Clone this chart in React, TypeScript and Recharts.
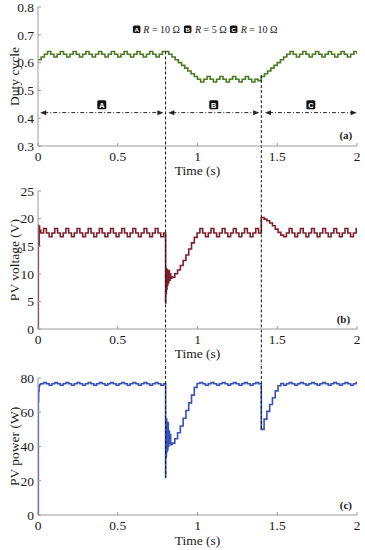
import React from 'react';
import { LineChart, Line, XAxis, YAxis, ReferenceLine, ReferenceDot } from 'recharts';

// ---------- data ----------
const X_TICKS = [0, 0.5, 1, 1.5, 2];
const DUTY_TICKS = [0.3, 0.4, 0.5, 0.6, 0.7, 0.8];
const VOLT_TICKS = [0, 5, 10, 15, 20, 25];
const POWER_TICKS = [0, 20, 40, 60, 80];
const LOAD_CHANGE_TIMES = [0.8, 1.4];
const REGION_TAGS = ['A', 'B', 'C'];
const REGION_LABELS = ['R = 10 Ω', 'R = 5 Ω', 'R = 10 Ω'];
const REGION_STARTS = [0.014, 0.817, 1.423];
const REGION_ENDS = [0.786, 1.387, 1.998];

const DUTY_TIME = [
  0, 0.02, 0.04, 0.06, 0.08, 0.1, 0.12, 0.14, 0.16, 0.18,
  0.2, 0.22, 0.24, 0.26, 0.28, 0.3, 0.32, 0.34, 0.36, 0.38,
  0.4, 0.42, 0.44, 0.46, 0.48, 0.5, 0.52, 0.54, 0.56, 0.58,
  0.6, 0.62, 0.64, 0.66, 0.68, 0.7, 0.72, 0.74, 0.76, 0.78,
  0.8, 0.82, 0.84, 0.86, 0.88, 0.9, 0.92, 0.94, 0.96, 0.98,
  1.0, 1.02, 1.04, 1.06, 1.08, 1.1, 1.12, 1.14, 1.16, 1.18,
  1.2, 1.22, 1.24, 1.26, 1.28, 1.3, 1.32, 1.34, 1.36, 1.38,
  1.4, 1.42, 1.44, 1.46, 1.48, 1.5, 1.52, 1.54, 1.56, 1.58,
  1.6, 1.62, 1.64, 1.66, 1.68, 1.7, 1.72, 1.74, 1.76, 1.78,
  1.8, 1.82, 1.84, 1.86, 1.88, 1.9, 1.92, 1.94, 1.96, 1.98,
  2.0,
];
const DUTY_CYCLE = [
  0.61,
  0.62, 0.63, 0.64, 0.63, 0.62, 0.63, 0.64, 0.63, 0.62, 0.63,
  0.64, 0.63, 0.62, 0.63, 0.64, 0.63, 0.62, 0.63, 0.64, 0.63,
  0.62, 0.63, 0.64, 0.63, 0.62, 0.63, 0.64, 0.63, 0.62, 0.63,
  0.64, 0.63, 0.62, 0.63, 0.64, 0.63, 0.62, 0.63, 0.64,
  0.64,
  0.63, 0.62, 0.61, 0.6, 0.59, 0.58, 0.57, 0.56, 0.55, 0.54, 0.53,
  0.54, 0.55, 0.54, 0.53, 0.54, 0.55, 0.54, 0.53, 0.54, 0.55,
  0.54, 0.53, 0.54, 0.55, 0.54, 0.53, 0.54, 0.535,
  0.55, 0.56, 0.57, 0.58, 0.59, 0.6, 0.61, 0.62, 0.63, 0.64,
  0.63, 0.62, 0.63, 0.64, 0.63, 0.62, 0.63, 0.64, 0.63, 0.62,
  0.63, 0.64, 0.63, 0.62, 0.63, 0.64, 0.63, 0.62, 0.63, 0.64,
  0.63,
];

const PV_TIME = [
  0, 0.002, 0.004, 0.007, 0.01,
  0.0175, 0.035, 0.0525, 0.07, 0.0875, 0.105, 0.1225, 0.14, 0.1575, 0.175,
  0.1925, 0.21, 0.2275, 0.245, 0.2625, 0.28, 0.2975, 0.315, 0.3325, 0.35,
  0.3675, 0.385, 0.4025, 0.42, 0.4375, 0.455, 0.4725, 0.49, 0.5075, 0.525,
  0.5425, 0.56, 0.5775, 0.595, 0.6125, 0.63, 0.6475, 0.665, 0.6825, 0.7,
  0.7175, 0.735, 0.7525, 0.77, 0.7875,
  0.8, 0.801, 0.803, 0.805, 0.807, 0.809, 0.811, 0.814, 0.817, 0.82, 0.824, 0.828, 0.832,
  0.84, 0.8575, 0.875, 0.8925, 0.91, 0.9275, 0.945, 0.9625, 0.98, 0.9975,
  1.015, 1.0325, 1.05, 1.0675, 1.085, 1.1025, 1.12, 1.1375, 1.155, 1.1725,
  1.19, 1.2075, 1.225, 1.2425, 1.26, 1.2775, 1.295, 1.3125, 1.33, 1.3475,
  1.365, 1.3825,
  1.4, 1.4175, 1.435, 1.4525, 1.47, 1.4875, 1.505, 1.5225, 1.54,
  1.5575, 1.575, 1.5925, 1.61, 1.6275, 1.645, 1.6625, 1.68, 1.6975, 1.715,
  1.7325, 1.75, 1.7675, 1.785, 1.8025, 1.82, 1.8375, 1.855, 1.8725, 1.89,
  1.9075, 1.925, 1.9425, 1.96, 1.9775, 1.995, 2.0,
];
const PV_VOLTAGE = [
  0, 18.8, 15.0, 18.6, 17.9,
  17.4, 18.2, 17.4, 16.7, 17.4, 18.2, 17.4, 16.7, 17.4, 18.2,
  17.4, 16.7, 17.4, 18.2, 17.4, 16.7, 17.4, 18.2, 17.4, 16.7,
  17.4, 18.2, 17.4, 16.7, 17.4, 18.2, 17.4, 16.7, 17.4, 18.2,
  17.4, 16.7, 17.4, 18.2, 17.4, 16.7, 17.4, 18.2, 17.4, 16.7,
  17.4, 18.2, 17.4, 16.7, 17.4,
  4.7, 11.0, 6.5, 10.5, 7.2, 10.8, 8.0, 10.2, 8.4, 10.6, 8.8, 10.0, 9.2,
  9.4, 10.0, 10.7, 11.5, 12.4, 13.4, 14.5, 15.6, 16.6, 17.4,
  18.2, 17.4, 16.7, 17.4, 18.2, 17.4, 16.7, 17.4, 18.2, 17.4,
  16.7, 17.4, 18.2, 17.4, 16.7, 17.4, 18.2, 17.4, 16.7, 17.4,
  18.2, 17.4,
  20.2, 19.9, 19.6, 19.2, 18.7, 18.1, 17.5, 17.0, 16.7,
  17.4, 18.2, 17.4, 16.7, 17.4, 18.2, 17.4, 16.7, 17.4, 18.2,
  17.4, 16.7, 17.4, 18.2, 17.4, 16.7, 17.4, 18.2, 17.4, 16.7,
  17.4, 18.2, 17.4, 16.7, 17.4, 18.2, 18.2,
];
const PV_POWER = [
  0, 66, 72.5, 75.3, 76.2,
  76.6, 77.3, 76.6, 75.8, 76.6, 77.3, 76.6, 75.8, 76.6, 77.3,
  76.6, 75.8, 76.6, 77.3, 76.6, 75.8, 76.6, 77.3, 76.6, 75.8,
  76.6, 77.3, 76.6, 75.8, 76.6, 77.3, 76.6, 75.8, 76.6, 77.3,
  76.6, 75.8, 76.6, 77.3, 76.6, 75.8, 76.6, 77.3, 76.6, 75.8,
  76.6, 77.3, 76.6, 75.8, 76.6,
  22, 52, 34, 56, 37, 50, 38, 54, 40, 49, 42, 47, 41,
  42, 44.5, 48, 52, 56.5, 61, 65.5, 70, 74.5, 76.8,
  77.3, 76.6, 75.8, 76.6, 77.3, 76.6, 75.8, 76.6, 77.3, 76.6,
  75.8, 76.6, 77.3, 76.6, 75.8, 76.6, 77.3, 76.6, 75.8, 76.6,
  77.3, 76.6,
  50, 56, 60.5, 64.5, 68.5, 72.5, 75.5, 76.8, 75.8,
  76.6, 77.3, 76.6, 75.8, 76.6, 77.3, 76.6, 75.8, 76.6, 77.3,
  76.6, 75.8, 76.6, 77.3, 76.6, 75.8, 76.6, 77.3, 76.6, 75.8,
  76.6, 77.3, 76.6, 75.8, 76.6, 77.3, 77.3,
];

// ---------- style ----------
const FONT = '"Liberation Serif", "Times New Roman", Times, serif';
const SANS = '"Liberation Sans", Arial, sans-serif';
const FRAME = '#9a9a9a';
const INK = '#1a1a1a';
const tickStyle = { fontSize: 13.5, fill: INK, fontFamily: FONT };

const dutyData = DUTY_TIME.map((t, i) => ({ t, v: DUTY_CYCLE[i] }));
const voltData = PV_TIME.map((t, i) => ({ t, v: PV_VOLTAGE[i] }));
const powerData = PV_TIME.map((t, i) => ({ t, v: PV_POWER[i] }));

function TagBox({ x, y, letter, size = 9 }: { x: number; y: number; letter: string; size?: number }) {
  return (
    <g>
      <rect x={x - size / 2} y={y - size / 2} width={size} height={size} rx={1.5} fill="#111" />
      <text x={x} y={y + size * 0.33} textAnchor="middle" fontSize={size * 0.82} fontWeight={700} fill="#fff" fontFamily={SANS}>
        {letter}
      </text>
    </g>
  );
}

function regionArrow(letter: string) {
  return (p: any) => {
    const { x1, y1, x2, y2 } = p;
    const mx = (x1 + x2) / 2;
    return (
      <g>
        <line x1={x1 + 4} y1={y1} x2={x2 - 4} y2={y2} stroke="#222" strokeWidth={1} strokeDasharray="4 2 1 2" />
        <polygon points={`${x1},${y1} ${x1 + 6},${y1 - 2.5} ${x1 + 6},${y1 + 2.5}`} fill="#222" />
        <polygon points={`${x2},${y2} ${x2 - 6},${y2 - 2.5} ${x2 - 6},${y2 + 2.5}`} fill="#222" />
        <TagBox x={mx} y={y1 - 8} letter={letter} />
      </g>
    );
  };
}

const LEGEND_BOX_OFFSETS = [-68.8, -17.8, 28.2];
const LEGEND_TEXT_OFFSETS = [-62.2, -10.5, 35.2];

function LegendShape(p: any) {
  const { cx, cy } = p;
  return (
    <g>
      {REGION_TAGS.map((tag, i) => (
        <g key={tag}>
          <TagBox x={cx + LEGEND_BOX_OFFSETS[i]} y={cy} letter={tag} size={7.5} />
          <text x={cx + LEGEND_TEXT_OFFSETS[i]} y={cy + 3.6} fontSize={10} fill={INK} fontFamily={FONT}>
            <tspan fontStyle="italic">{REGION_LABELS[i].slice(0, 1)}</tspan>
            {REGION_LABELS[i].slice(1)}
          </text>
        </g>
      ))}
    </g>
  );
}

function panelTag(text: string) {
  return (p: any) => (
    <text x={p.cx} y={p.cy} textAnchor="middle" fontSize={11} fontWeight={700} fill={INK} fontFamily={FONT}>
      {text}
    </text>
  );
}

type PanelProps = {
  height: number;
  plotTop: number;
  xAxisHeight: number;
  data: { t: number; v: number }[];
  color: string;
  domain: [number, number];
  ticks: number[];
  yLabel: string;
  timeOffset: number;
  children?: React.ReactNode;
};

function Panel({ height, plotTop, xAxisHeight, data, color, domain, ticks, yLabel, timeOffset, children }: PanelProps) {
  return (
    <LineChart width={365} height={height} data={data} margin={{ top: plotTop, right: 8, bottom: 0, left: 0 }}>
      <XAxis
        dataKey="t"
        type="number"
        domain={[0, 2]}
        ticks={X_TICKS}
        interval={0}
        allowDataOverflow
        height={xAxisHeight}
        tickSize={-3}
        tickMargin={8}
        axisLine={{ stroke: FRAME }}
        tickLine={{ stroke: FRAME }}
        tick={tickStyle}
        tickFormatter={(v: number) => String(v)}
        label={{ value: 'Time (s)', position: 'insideBottom', offset: timeOffset, fontSize: 13.5, fill: INK, fontFamily: FONT, style: { fontSize: 13.5, fill: INK, fontFamily: FONT } }}
      />
      <XAxis
        xAxisId="top"
        orientation="top"
        type="number"
        dataKey="t"
        domain={[0, 2]}
        ticks={X_TICKS}
        interval={0}
        height={0}
        tickSize={-3}
        tick={false}
        axisLine={{ stroke: FRAME }}
        tickLine={{ stroke: FRAME }}
      />
      <YAxis
        type="number"
        domain={domain}
        ticks={ticks}
        interval={0}
        allowDataOverflow
        width={38}
        tickSize={-3}
        tickMargin={7}
        axisLine={{ stroke: FRAME }}
        tickLine={{ stroke: FRAME }}
        tick={tickStyle}
        tickFormatter={(v: number) => String(v)}
        label={{ value: yLabel, angle: -90, position: 'insideLeft', offset: 14, fontSize: 13.5, fill: INK, style: { textAnchor: 'middle', fontSize: 13.5, fill: INK, fontFamily: FONT } }}
      />
      <YAxis
        yAxisId="right"
        orientation="right"
        type="number"
        domain={domain}
        ticks={ticks}
        interval={0}
        width={0}
        tickSize={-3}
        tick={false}
        axisLine={{ stroke: FRAME }}
        tickLine={{ stroke: FRAME }}
      />
      <Line type="stepAfter" dataKey="v" stroke={color} strokeWidth={1.6} dot={false} isAnimationActive={false} />
      {children}
    </LineChart>
  );
}

const dashProps = { stroke: '#111', strokeWidth: 1, strokeDasharray: '3 2', ifOverflow: 'visible' as const };

export default function App() {
  return (
    <div style={{ position: 'absolute', left: 0, top: 0, width: 365, height: 550, background: '#fff', fontFamily: FONT }}>
      <div style={{ position: 'absolute', left: 0, top: 0 }}>
        <Panel height={180} plotTop={7} xAxisHeight={34} data={dutyData} color="#4a7c22" domain={[0.3, 0.8]} ticks={DUTY_TICKS} yLabel="Duty cycle" timeOffset={5}>
          <ReferenceLine {...dashProps} segment={[{ x: LOAD_CHANGE_TIMES[0], y: 0.64 }, { x: LOAD_CHANGE_TIMES[0], y: 0.15 }]} />
          <ReferenceLine {...dashProps} segment={[{ x: LOAD_CHANGE_TIMES[1], y: 0.555 }, { x: LOAD_CHANGE_TIMES[1], y: 0.15 }]} />
          {REGION_TAGS.map((tag, i) => (
            <ReferenceLine
              key={tag}
              ifOverflow="visible"
              segment={[{ x: REGION_STARTS[i], y: 0.42 }, { x: REGION_ENDS[i], y: 0.42 }]}
              shape={regionArrow(tag)}
            />
          ))}
          <ReferenceDot x={1.05} y={0.72} r={0} ifOverflow="visible" shape={LegendShape} />
          <ReferenceDot x={1.93} y={0.325} r={0} ifOverflow="visible" shape={panelTag('(a)')} />
        </Panel>
      </div>
      <div style={{ position: 'absolute', left: 0, top: 180 }}>
        <Panel height={185} plotTop={11} xAxisHeight={36} data={voltData} color="#7e1f2c" domain={[0, 25]} ticks={VOLT_TICKS} yLabel="PV voltage (V)" timeOffset={7}>
          {LOAD_CHANGE_TIMES.map((t) => (
            <ReferenceLine key={t} {...dashProps} segment={[{ x: t, y: 28 }, { x: t, y: -8 }]} />
          ))}
          <ReferenceDot x={1.915} y={1.15} r={0} ifOverflow="visible" shape={panelTag('(b)')} />
        </Panel>
      </div>
      <div style={{ position: 'absolute', left: 0, top: 365 }}>
        <Panel height={185} plotTop={13} xAxisHeight={35} data={powerData} color="#3652b8" domain={[0, 80]} ticks={POWER_TICKS} yLabel="PV power (W)" timeOffset={5}>
          <ReferenceLine {...dashProps} segment={[{ x: LOAD_CHANGE_TIMES[0], y: 90 }, { x: LOAD_CHANGE_TIMES[0], y: 22 }]} />
          <ReferenceLine {...dashProps} segment={[{ x: LOAD_CHANGE_TIMES[1], y: 90 }, { x: LOAD_CHANGE_TIMES[1], y: 50 }]} />
          <ReferenceDot x={1.93} y={3.5} r={0} ifOverflow="visible" shape={panelTag('(c)')} />
        </Panel>
      </div>
    </div>
  );
}
